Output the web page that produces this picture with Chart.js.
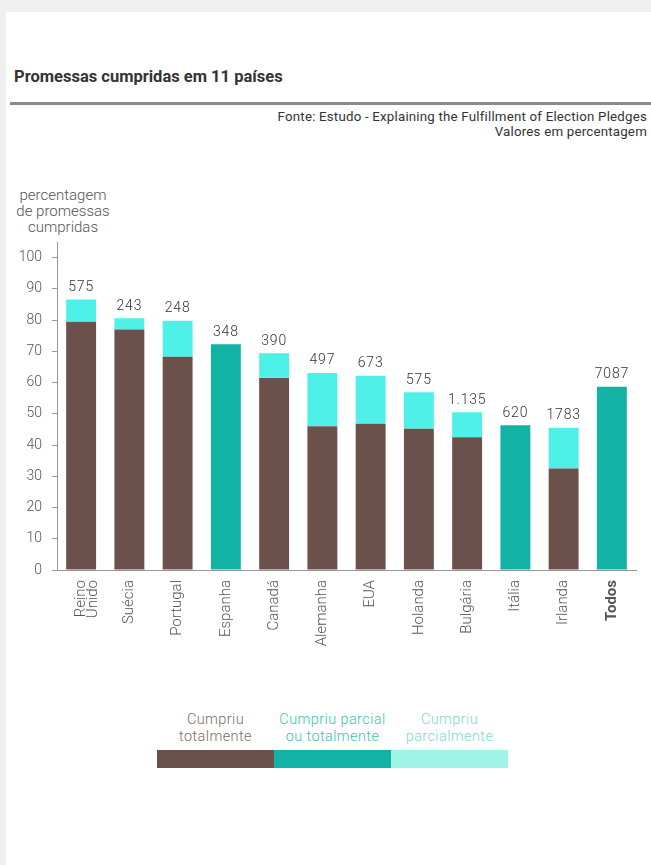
<!DOCTYPE html>
<html>
<head>
<meta charset="utf-8">
<script src="https://cdn.jsdelivr.net/npm/chart.js@4"></script>
<style>
  body { margin: 0; background: #efefef; font-family: Roboto, sans-serif; }
  #pagina { position: absolute; left: 6px; top: 12px; width: 645px; height: 853px; background: #fff; }
  #titulo { position: absolute; left: 8px; top: 55px; font-size: 16.5px; font-weight: bold; color: #333; }
  #linha { position: absolute; left: 4px; top: 90px; width: 641px; height: 3px; background: #8a8a8a; }
  #fonte { position: absolute; right: 4px; top: 97px; font-size: 13.3px; line-height: 15px; color: #333; text-align: right; letter-spacing: 0.2px; }
  #eixoY { position: absolute; left: 1px; top: 175px; width: 112px; text-align: center; font-size: 15px; line-height: 16px; color: #555; font-weight: 300; }
  #grafico { position: absolute; left: 0px; top: 158px; }
  #legenda { position: absolute; left: 151px; top: 699px; }
  .item { position: absolute; top: 0; width: 117px; text-align: center; font-size: 14.5px; line-height: 17px; font-weight: 300; letter-spacing: 0.4px; white-space: nowrap; }
  .bloco { position: absolute; top: 39px; width: 117px; height: 18px; }
</style>
</head>
<body>
<div id="pagina">
  <div id="titulo">Promessas cumpridas em 11 países</div>
  <div id="linha"></div>
  <div id="fonte">Fonte: Estudo - Explaining the Fulfillment of Election Pledges<br>Valores em percentagem</div>
  <div id="eixoY">percentagem<br>de promessas<br>cumpridas</div>
  <div id="grafico"><canvas id="chart1" width="645" height="480"></canvas></div>
  <div id="legenda">
    <div class="item" style="left:0px;color:#7d6a66">Cumpriu<br>totalmente</div>
    <div class="item" style="left:117px;color:#3fbfb2">Cumpriu parcial<br>ou totalmente</div>
    <div class="item" style="left:234px;color:#7fd8cc">Cumpriu<br>parcialmente</div>
    <div class="bloco" style="left:0px;background:#6b504c"></div>
    <div class="bloco" style="left:117px;background:#12b3a4"></div>
    <div class="bloco" style="left:234px;background:#9ef5e6"></div>
  </div>
</div>
<script>
// Países (categorias)
var paises = [["Reino", "Unido"], "Suécia", "Portugal", "Espanha", "Canadá", "Alemanha", "EUA", "Holanda", "Bulgária", "Itália", "Irlanda", "Todos"];

// Número de promessas analisadas (etiqueta por cima da barra)
var nPromessas = ["575", "243", "248", "348", "390", "497", "673", "575", "1.135", "620", "1783", "7087"];

// Percentagens
var cumpriuTotal = [79.5, 77, 68.3, null, 61.5, 46, 46.8, 45.2, 42.5, null, 32.5, null];
var cumpriuParcialOuTotal = [null, null, null, 72.3, null, null, null, null, null, 46.3, null, 58.7];
var cumpriuParcial = [7.1, 3.6, 11.5, null, 7.9, 17.1, 15.4, 11.7, 8, null, 13, null];

// Ticks do eixo y
var ticksY = [0, 10, 20, 30, 40, 50, 60, 70, 80, 90, 100];

var corTexto = "#555";

// Plugin para escrever o número de promessas por cima de cada barra
var etiquetas = {
    id: "etiquetas",
    afterDatasetsDraw: function (chart) {
        var ctx = chart.ctx;
        var x = chart.scales.x, y = chart.scales.y;
        ctx.save();
        ctx.font = "300 14px Roboto";
        ctx.letterSpacing = "0.8px";
        ctx.fillStyle = "#333";
        ctx.textAlign = "center";
        ctx.textBaseline = "bottom";
        for (var i = 0; i < paises.length; i++) {
            var topo = (cumpriuTotal[i] || 0) + (cumpriuParcialOuTotal[i] || 0) + (cumpriuParcial[i] || 0);
            ctx.fillText(nPromessas[i], x.getPixelForValue(i), y.getPixelForValue(topo) - 5);
        }
        ctx.restore();
    }
};

var datos = {
    labels: paises,
    datasets: [{
        label: "Cumpriu totalmente",
        backgroundColor: "#6b504c",
        data: cumpriuTotal
    }, {
        label: "Cumpriu parcial ou totalmente",
        backgroundColor: "#12b3a4",
        data: cumpriuParcialOuTotal
    }, {
        label: "Cumpriu parcialmente",
        backgroundColor: "#4ff0e7",
        data: cumpriuParcial
    }]
};

var configuracion = {
    type: "bar",
    data: datos,
    plugins: [etiquetas],
    options: {
        responsive: false,
        animation: false,
        barPercentage: 0.62,
        categoryPercentage: 1,
        layout: { padding: { left: 11, right: 15, top: 72, bottom: 0 } },
        plugins: { legend: { display: false }, tooltip: { enabled: false } },
        scales: {
            x: {
                stacked: true,
                grid: { display: false },
                border: { display: true, color: "#999" },
                afterFit: function (s) { s.height = 80; },
                ticks: {
                    minRotation: 90,
                    maxRotation: 90,
                    padding: 2,
                    color: corTexto,
                    font: function (c) {
                        return { family: "Roboto", size: 15, weight: c.index === 11 ? "bold" : "300", lineHeight: 0.8 };
                    }
                }
            },
            y: {
                stacked: true,
                min: 0,
                max: 105,
                afterFit: function (s) { s.width = 40; },
                afterBuildTicks: function (s) {
                    s.ticks = ticksY.map(function (v) { return { value: v }; });
                },
                grid: { drawOnChartArea: false, drawTicks: true, tickLength: 5, color: "#999" },
                border: { display: true, color: "#999" },
                ticks: { padding: 10, color: corTexto, font: { family: "Roboto", size: 14, weight: "300" } }
            }
        }
    }
};

var contexto = document.getElementById("chart1").getContext("2d");
var miGrafico = new Chart(contexto, configuracion);
</script>
</body>
</html>
